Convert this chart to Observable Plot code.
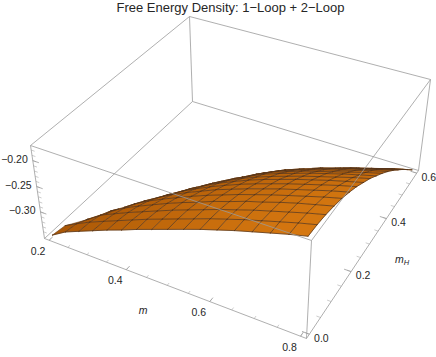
<!DOCTYPE html>
<html><head><meta charset="utf-8">
<style>html,body{margin:0;padding:0;background:#fff}</style>
<script src="https://cdn.jsdelivr.net/npm/d3@7"></script>
<script src="https://cdn.jsdelivr.net/npm/@observablehq/plot@0.6"></script>
</head><body><div id="c"></div><script>
const titleText = "Free Energy Density: 1\u2212Loop + 2\u2212Loop";
const mValues = [0.2,0.2375,0.275,0.3125,0.35,0.3875,0.425,0.4625,0.5,0.5375,0.575,0.6125,0.65,0.6875,0.725,0.7625,0.8];
const mHValues = [0,0.0375,0.075,0.1125,0.15,0.1875,0.225,0.2625,0.3,0.3375,0.375,0.4125,0.45,0.4875,0.525,0.5625,0.6];
// free energy density: one row per mH value, one column per m value
const freeEnergy = [
[-.350,-.333,-.321,-.309,-.297,-.286,-.274,-.263,-.252,-.241,-.230,-.220,-.210,-.201,-.192,-.183,-.175],
[-.352,-.337,-.323,-.311,-.299,-.287,-.275,-.264,-.253,-.242,-.231,-.221,-.211,-.202,-.193,-.184,-.176],
[-.370,-.348,-.329,-.316,-.303,-.291,-.279,-.267,-.256,-.245,-.234,-.224,-.214,-.205,-.196,-.187,-.179],
[-.390,-.366,-.340,-.324,-.310,-.297,-.284,-.272,-.261,-.249,-.239,-.228,-.219,-.209,-.200,-.192,-.184],
[-.420,-.391,-.354,-.335,-.319,-.305,-.292,-.279,-.267,-.256,-.245,-.235,-.225,-.216,-.207,-.198,-.190],
[-.460,-.421,-.370,-.348,-.331,-.315,-.301,-.288,-.275,-.264,-.253,-.243,-.233,-.224,-.215,-.206,-.198],
[-.500,-.456,-.390,-.364,-.344,-.327,-.312,-.298,-.285,-.273,-.262,-.252,-.242,-.233,-.224,-.215,-.207],
[-.550,-.496,-.412,-.382,-.359,-.340,-.324,-.309,-.296,-.283,-.272,-.262,-.252,-.243,-.234,-.226,-.218],
[-.600,-.540,-.437,-.402,-.376,-.354,-.337,-.322,-.308,-.295,-.284,-.274,-.264,-.255,-.246,-.237,-.229],
[-.650,-.588,-.464,-.423,-.394,-.370,-.351,-.335,-.321,-.307,-.296,-.286,-.276,-.267,-.258,-.250,-.242],
[-.700,-.640,-.493,-.446,-.413,-.387,-.367,-.350,-.334,-.320,-.310,-.299,-.290,-.281,-.272,-.263,-.255],
[-.760,-.694,-.523,-.470,-.434,-.405,-.383,-.366,-.349,-.335,-.324,-.314,-.304,-.295,-.286,-.277,-.269],
[-.820,-.752,-.555,-.496,-.455,-.424,-.401,-.382,-.365,-.350,-.339,-.329,-.319,-.310,-.301,-.292,-.284],
[-.880,-.812,-.589,-.523,-.478,-.444,-.419,-.399,-.381,-.365,-.355,-.344,-.335,-.325,-.317,-.308,-.300],
[-.940,-.874,-.624,-.551,-.502,-.464,-.438,-.417,-.398,-.382,-.371,-.361,-.351,-.342,-.333,-.324,-.316],
[-1.00,-.939,-.660,-.580,-.526,-.486,-.457,-.435,-.415,-.398,-.388,-.377,-.368,-.358,-.350,-.341,-.333],
[-1.06,-1.005,-.697,-.609,-.551,-.508,-.477,-.454,-.433,-.416,-.405,-.395,-.385,-.376,-.367,-.358,-.350]
];
const mTicks = [0.2,0.4,0.6,0.8];
const mHTicks = [0,0.2,0.4,0.6];
const zTicks = [-0.30,-0.25,-0.20];
const mMinor = d3.range(0.2,0.801,0.05);
const mHMinor = d3.range(0,0.601,0.05);
const zMinor = d3.range(-0.34,-0.179,0.01);
const mRange=[0.2,0.8], mHRange=[0,0.6], zRange=[-0.35,-0.175];

// camera: screen position of the eight box corners, with a perspective weight
const cam = {
 "000":[44,238],"100":[306,338],"110":[418,170],"010":[192,101],
 "001":[30,145],"101":[311,240],"111":[430,79],"011":[189,16]};
const persp=[-0.12,0.25,-0.04];
function boxProject(u,v,w){
  let sx=0,sy=0,sw=0;
  for(const a of [0,1])for(const b of [0,1])for(const c of [0,1]){
    const wt=(a?u:1-u)*(b?v:1-v)*(c?w:1-w)*(1+persp[0]*a+persp[1]*b+persp[2]*c);
    const p=cam[`${a}${b}${c}`];
    sx+=wt*p[0];sy+=wt*p[1];sw+=wt;
  }
  return [sx/sw,sy/sw];
}
const pad=t=>0.02+0.96*t;
const U=m=>pad((m-mRange[0])/(mRange[1]-mRange[0]));
const V=h=>pad((h-mHRange[0])/(mHRange[1]-mHRange[0]));
const W=z=>pad((z-zRange[0])/(zRange[1]-zRange[0]));
const proj=(m,h,z)=>boxProject(U(m),V(h),W(z));

// clip to the floor of the plot range
const floor=zRange[0];
const lerpP=(a,b)=>{const t=(floor-a.z)/(b.z-a.z);return {m:a.m+t*(b.m-a.m),h:a.h+t*(b.h-a.h),z:floor};};
function clipPoly(pts){
  const out=[];
  pts.forEach((p,i)=>{const q=pts[(i+1)%pts.length];
    if(p.z>=floor)out.push(p);
    if((p.z>=floor)!==(q.z>=floor))out.push(lerpP(p,q));});
  return out;
}
const vtx=(j,k)=>({m:mValues[k],h:mHValues[j],z:freeEnergy[j][k]});
const cells=[], mesh=[], rim=[];
let id=0;
const addPt=(arr,p,i,extra)=>{const s=proj(p.m,p.h,p.z);arr.push({id:i,sx:s[0],sy:s[1],...extra});};
for(let j=0;j<16;j++)for(let k=0;k<16;k++){
  const poly=clipPoly([vtx(j,k),vtx(j,k+1),vtx(j+1,k+1),vtx(j+1,k)]);
  if(poly.length<3)continue;
  const mean=d3.mean(poly,p=>p.z);
  id++;poly.forEach(p=>addPt(cells,p,id,{f:mean}));
}
function addSeg(a,b,arr){
  let p=a,q=b;
  if(p.z<floor&&q.z<floor)return;
  if(p.z<floor)p=lerpP(p,q); else if(q.z<floor)q=lerpP(p,q);
  id++;addPt(arr,p,id);addPt(arr,q,id);
}
for(let j=0;j<17;j++)for(let k=0;k<16;k++)addSeg(vtx(j,k),vtx(j,k+1),mesh);
for(let k=0;k<17;k++)for(let j=0;j<16;j++)addSeg(vtx(j,k),vtx(j+1,k),mesh);
// upper rim: where the surface meets the floor
for(let j=0;j<16;j++)for(let k=0;k<16;k++){
  const c=[vtx(j,k),vtx(j,k+1),vtx(j+1,k+1),vtx(j+1,k)];
  const cr=[];
  c.forEach((p,i)=>{const q=c[(i+1)%4];if((p.z>=floor)!==(q.z>=floor))cr.push(lerpP(p,q));});
  if(cr.length===2){id++;addPt(rim,cr[0],id);addPt(rim,cr[1],id);}
}
const edge=(a,b)=>({x1:cam[a][0],y1:cam[a][1],x2:cam[b][0],y2:cam[b][1]});
const backEdges=[["011","001"],["011","111"],["011","010"],["010","000"],["010","110"]].map(e=>edge(...e));
const frontEdges=[["000","100"],["100","110"],["110","111"],["000","001"],["100","101"],["001","101"],["101","111"]].map(e=>edge(...e));
const seg=(a,b)=>({x1:a[0],y1:a[1],x2:b[0],y2:b[1]});
const mT=(m,l)=>seg(boxProject(U(m),0,0),boxProject(U(m),l,0));
const hT=(h,l)=>seg(boxProject(1,V(h),0),boxProject(1-l,V(h),0));
const zT=(z,l)=>seg(boxProject(0,0,W(z)),boxProject(l,0,W(z)));
const major=[...mTicks.map(d=>mT(d,.02)),...mHTicks.map(d=>hT(d,.025)),...zTicks.map(d=>zT(d,.025))];
const minor=[...mMinor.map(d=>mT(d,.012)),...mHMinor.map(d=>hT(d,.014)),...zMinor.map(d=>zT(d,.014))];
const mLab=mTicks.map(d=>{const p=boxProject(U(d),0,0);return {x:p[0],y:p[1],t:d.toFixed(1)};});
const hLab=mHTicks.map(d=>{const p=boxProject(1,V(d),0);return {x:p[0],y:p[1],t:d.toFixed(1)};});
const zLab=zTicks.map(d=>{const p=boxProject(0,0,W(d));return {x:p[0],y:p[1],t:"\u2212"+Math.abs(d).toFixed(2)};});
const mAxis=[boxProject(0.5,0,0)].map(p=>({x:p[0],y:p[1]}));
const hAxis=[boxProject(1,0.5,0)].map(p=>({x:p[0],y:p[1]}));
const boxC="#9b9b9b", txt="#262626", font="Liberation Sans, Arial, sans-serif";
const chart=Plot.plot({
  width:436,height:357,margin:0,style:{background:"#fff",fontFamily:font,overflow:"visible"},
  x:{domain:[0,436],range:[0,436],axis:null},
  y:{domain:[0,357],range:[0,357],axis:null},
  color:{type:"linear",domain:zRange,range:["#a85606","#d67810"]},
  marks:[
    Plot.link(backEdges,{x1:"x1",y1:"y1",x2:"x2",y2:"y2",stroke:boxC,strokeWidth:0.8}),
    Plot.line(cells,{x:"sx",y:"sy",z:"id",fill:"f",stroke:"f",strokeWidth:0.4}),
    Plot.line(mesh,{x:"sx",y:"sy",z:"id",stroke:"#55341a",strokeWidth:0.9,strokeOpacity:0.85}),
    Plot.line(rim,{x:"sx",y:"sy",z:"id",stroke:"#55341a",strokeWidth:0.6,strokeOpacity:0.8}),
    Plot.link(frontEdges,{x1:"x1",y1:"y1",x2:"x2",y2:"y2",stroke:boxC,strokeWidth:0.8}),
    Plot.link(major,{x1:"x1",y1:"y1",x2:"x2",y2:"y2",stroke:boxC,strokeWidth:0.8}),
    Plot.link(minor,{x1:"x1",y1:"y1",x2:"x2",y2:"y2",stroke:boxC,strokeWidth:0.5}),
    Plot.text(mLab,{x:"x",y:"y",text:"t",dx:-11,dy:11,fontSize:10.5,fill:txt}),
    Plot.text(hLab,{x:"x",y:"y",text:"t",dx:12,dy:4,fontSize:10.5,fill:txt}),
    Plot.text(zLab,{x:"x",y:"y",text:"t",dx:-5,dy:-1,textAnchor:"end",fontSize:10.5,fill:txt}),
    Plot.text(mAxis,{x:"x",y:"y",text:()=>"m",dx:-24,dy:25,fontSize:10.5,fontStyle:"italic",fill:txt}),
    Plot.text(hAxis,{x:"x",y:"y",text:()=>"m",dx:30,dy:16,fontSize:10.5,fontStyle:"italic",fill:txt}),
    Plot.text(hAxis,{x:"x",y:"y",text:()=>"H",dx:37,dy:19,fontSize:7.5,fontStyle:"italic",fill:txt}),
    Plot.text([titleText],{frameAnchor:"top",dx:12,dy:2,fontSize:13,fill:txt,lineAnchor:"top"})
  ]
});
document.getElementById("c").appendChild(chart);
</script></body></html>
